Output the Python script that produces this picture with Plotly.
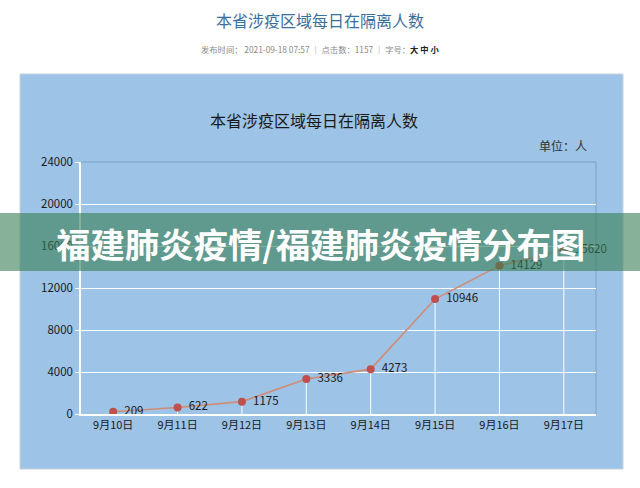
import plotly.graph_objects as go

dates = ["9月10日", "9月11日", "9月12日", "9月13日", "9月14日", "9月15日", "9月16日", "9月17日"]
isolated = [209, 622, 1175, 3336, 4273, 10946, 14129, 15620]
y_ticks = [0, 4000, 8000, 12000, 16000, 20000, 24000]

page_title = "本省涉疫区域每日在隔离人数"
meta_line = "发布时间： 2021-09-18 07:57 ｜ 点击数：1157 ｜ 字号：<b><span style='color:#222'>大 中 小</span></b>"
chart_title = "本省涉疫区域每日在隔离人数"
unit_text = "单位：人"
banner_text = "福建肺炎疫情/福建肺炎疫情分布图"

FONT = "Noto Sans CJK SC, Noto Sans, sans-serif"
BLUE = "#9DC3E6"

# plot area in pixels
L, R, T, B = 81, 596, 162, 414
W, H = R - L, B - T


def px(x):
    return (x - L) / W


def py(y):
    return (B - y) / H


fig = go.Figure()

# drop lines
fig.add_trace(go.Scatter(
    x=dates, y=isolated, mode="markers",
    marker=dict(size=1, color="rgba(0,0,0,0)"),
    error_y=dict(type="data", symmetric=False, array=[0] * len(isolated),
                 arrayminus=isolated, color="white", thickness=1, width=0),
    hoverinfo="skip", showlegend=False,
))

fig.add_trace(go.Scatter(
    x=dates, y=isolated, mode="lines+markers+text",
    line=dict(color="#D08C74", width=1.6),
    marker=dict(color="#C0504D", size=8),
    text=["\u00a0\u00a0" + str(v) for v in isolated], textposition="middle right",
    textfont=dict(family=FONT, size=11.5, color="#1a1a1a"),
    cliponaxis=False,
    showlegend=False,
))

shapes = [
    # blue image background
    dict(type="rect", xref="paper", yref="paper", x0=px(20), x1=px(623), y0=py(469), y1=py(74),
         fillcolor=BLUE, line=dict(color="#C9D3DC", width=1), layer="below"),
    # plot border top / right
    dict(type="line", xref="paper", yref="paper", x0=px(L), x1=px(R), y0=py(T), y1=py(T),
         line=dict(color="#88ACD0", width=1.5), layer="below"),
    dict(type="line", xref="paper", yref="paper", x0=px(R), x1=px(R), y0=py(T), y1=py(B),
         line=dict(color="#88ACD0", width=1.5), layer="below"),
    # overlay banner
    dict(type="rect", xref="paper", yref="paper", x0=px(0), x1=px(640), y0=py(271), y1=py(213),
         fillcolor="rgba(55,127,85,0.6)", line=dict(width=0), layer="above"),
]

annotations = [
    dict(text=page_title, x=px(320), y=py(20), xref="paper", yref="paper", showarrow=False,
         xanchor="center", yanchor="middle", font=dict(family=FONT, size=16, color="#3A6E9C")),
    dict(text=meta_line, x=px(320), y=py(49), xref="paper", yref="paper", showarrow=False,
         xanchor="center", yanchor="middle", font=dict(family=FONT, size=8.3, color="#888888")),
    dict(text=chart_title, x=px(314), y=py(120), xref="paper", yref="paper", showarrow=False,
         xanchor="center", yanchor="middle", font=dict(family=FONT, size=16, color="#1a1a1a")),
    dict(text=unit_text, x=px(589), y=py(145), xref="paper", yref="paper", showarrow=False,
         xanchor="right", yanchor="middle", font=dict(family=FONT, size=12, color="#333333")),
    dict(text="<b>" + banner_text + "</b>", x=px(320), y=py(243), xref="paper", yref="paper",
         showarrow=False, xanchor="center", yanchor="middle",
         font=dict(family=FONT, size=34.4, color="white")),
]

fig.update_layout(
    width=640, height=488,
    margin=dict(l=L, r=640 - R, t=T, b=488 - B, pad=0),
    paper_bgcolor="white", plot_bgcolor=BLUE,
    shapes=shapes, annotations=annotations,
    font=dict(family=FONT, color="#1a1a1a"),
    xaxis=dict(type="category", range=[-0.5, len(dates) - 0.5], showgrid=False,
               showline=True, linecolor="white", linewidth=2, ticks="",
               tickfont=dict(family=FONT, size=11, color="#1a1a1a"), fixedrange=True),
    yaxis=dict(range=[0, 24000], tickvals=y_ticks, ticktext=[str(v) for v in y_ticks],
               showgrid=True, gridcolor="white", gridwidth=1, zeroline=False,
               showline=True, linecolor="white", linewidth=1.5,
               ticks="outside", ticklen=4, tickcolor="white",
               tickfont=dict(family=FONT, size=11.5, color="#1a1a1a"), fixedrange=True),
)

fig.write_html("out.html", config={"displayModeBar": False},
               post_script="document.body.style.margin='0';")
